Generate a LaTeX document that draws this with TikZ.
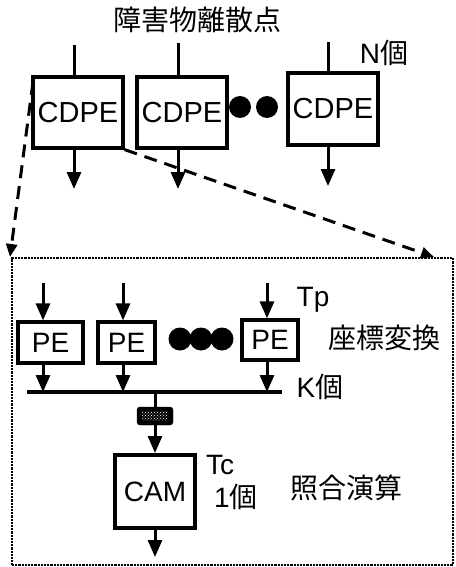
\documentclass[tikz,border=0pt]{standalone}
\usepackage{fontspec}
\setmainfont{Liberation Sans}
\newfontfamily\cjk{Noto Sans CJK JP}
\usetikzlibrary{arrows.meta,patterns}
\begin{document}
\begin{tikzpicture}[x=1pt,y=-1pt,
  font=\fontsize{28}{32}\selectfont,
  blk/.style={draw, line width=3.2pt, inner sep=0pt},
  arr/.style={line width=3pt, -{Triangle[length=17pt,width=14pt]}},
  ln/.style={line width=3pt},
  dsh/.style={line width=3pt, dash pattern=on 13pt off 8pt, -{Triangle[length=13pt,width=11pt]}},
  lbl/.style={inner sep=0pt},
  dotc/.style={fill=black, circle, inner sep=0pt, minimum size=22pt}]
\useasboundingbox (0,0) rectangle (455,567);

% ---- top level ----
\node[lbl] (title) at (197,20) {\cjk 障害物離散点};
\node[lbl] (nlab) at (384,53) {N\cjk 個};

\node[blk, minimum width=90pt, minimum height=71pt] (c1) at (78,112.5) {\raisebox{-8pt}{\fontsize{29}{32}\selectfont CDPE}};
\node[blk, minimum width=90pt, minimum height=71pt] (c2) at (182,112.5) {\raisebox{-8pt}{\fontsize{29}{32}\selectfont CDPE}};
\node[blk, minimum width=90pt, minimum height=72pt] (c3) at (333,109) {\raisebox{-8pt}{\fontsize{29}{32}\selectfont CDPE}};
\node[dotc] (d1) at (240,107) {};
\node[dotc] (d2) at (267,107) {};

\coordinate (i1) at (74,45);
\coordinate (i2) at (178,43);
\coordinate (i3) at (328,42);
\draw[ln] (i1) -- (i1 |- c1.north);
\draw[ln] (i2) -- (i2 |- c2.north);
\draw[ln] (i3) -- (i3 |- c3.north);
\coordinate (o1) at (74,189);
\coordinate (o2) at (178,189);
\coordinate (o3) at (328,186);
\draw[arr] (o1 |- c1.south) -- (o1);
\draw[arr] (o2 |- c2.south) -- (o2);
\draw[arr] (o3 |- c3.south) -- (o3);

% ---- zoomed frame ----
\node[draw, line width=2.2pt, densely dotted, minimum width=441pt, minimum height=307pt, inner sep=0pt] (frame) at (232.5,411.5) {};
\coordinate (ls) at (33,82);
\coordinate (lt) at (10,257);
\coordinate (rt) at (434,257);
\draw[dsh] (ls) -- (lt);
\draw[dsh] (c1.south east) -- (rt);

% PE row
\node[blk, minimum width=65pt, minimum height=41pt] (p1) at (50.5,342.5) {PE};
\node[blk, minimum width=57pt, minimum height=41pt] (p2) at (126.5,342.5) {PE};
\node[blk, minimum width=56pt, minimum height=40pt] (p3) at (270,340) {PE};
\node[dotc, minimum size=23pt] (e1) at (180,339) {};
\node[dotc, minimum size=23pt] (e2) at (201,339) {};
\node[dotc, minimum size=23pt] (e3) at (222,339) {};

\coordinate (pi1) at (43,283);
\coordinate (pi2) at (123,283);
\coordinate (pi3) at (267,283);
\draw[arr] (pi1) -- (pi1 |- p1.north);
\draw[arr] (pi2) -- (pi2 |- p2.north);
\draw[arr] (pi3) -- (pi3 |- p3.north);

\coordinate (busL) at (27,392);
\coordinate (busR) at (282,392);
\draw[line width=4pt] (busL) -- (busR);
\draw[arr] (pi1 |- p1.south) -- (pi1 |- busL);
\draw[arr] (pi2 |- p2.south) -- (pi2 |- busL);
\draw[arr] (pi3 |- p3.south) -- (pi3 |- busL);

\node[lbl] (tp) at (313,300) {Tp};
\node[lbl] (zh) at (384,338) {\cjk 座標変換};
\node[lbl] (kk) at (320,387) {K\cjk 個};

% buffer
\node[draw, fill=black, rounded corners=3pt, minimum width=36pt, minimum height=18pt, inner sep=0pt] (buf) at (155,416) {};
\fill[pattern=crosshatch dots, pattern color=white] ([shift={(5,5)}]buf.north west) rectangle ([shift={(-5,-5)}]buf.south east);
\coordinate (bt) at (155,392);
\draw[ln] (bt) -- (buf.north);

% CAM
\node[draw, line width=4pt, minimum width=80pt, minimum height=73pt, inner sep=0pt] (cam) at (155,491.5) {CAM};
\draw[arr] (buf.south) -- (cam.north);
\coordinate (co) at (155,557);
\draw[arr] (cam.south) -- (co);

\node[lbl] (tc) at (220,465) {Tc};
\node[lbl] (one) at (236,497) {1\cjk 個};
\node[lbl] (sg) at (346,488) {\cjk 照合演算};
\end{tikzpicture}
\end{document}
